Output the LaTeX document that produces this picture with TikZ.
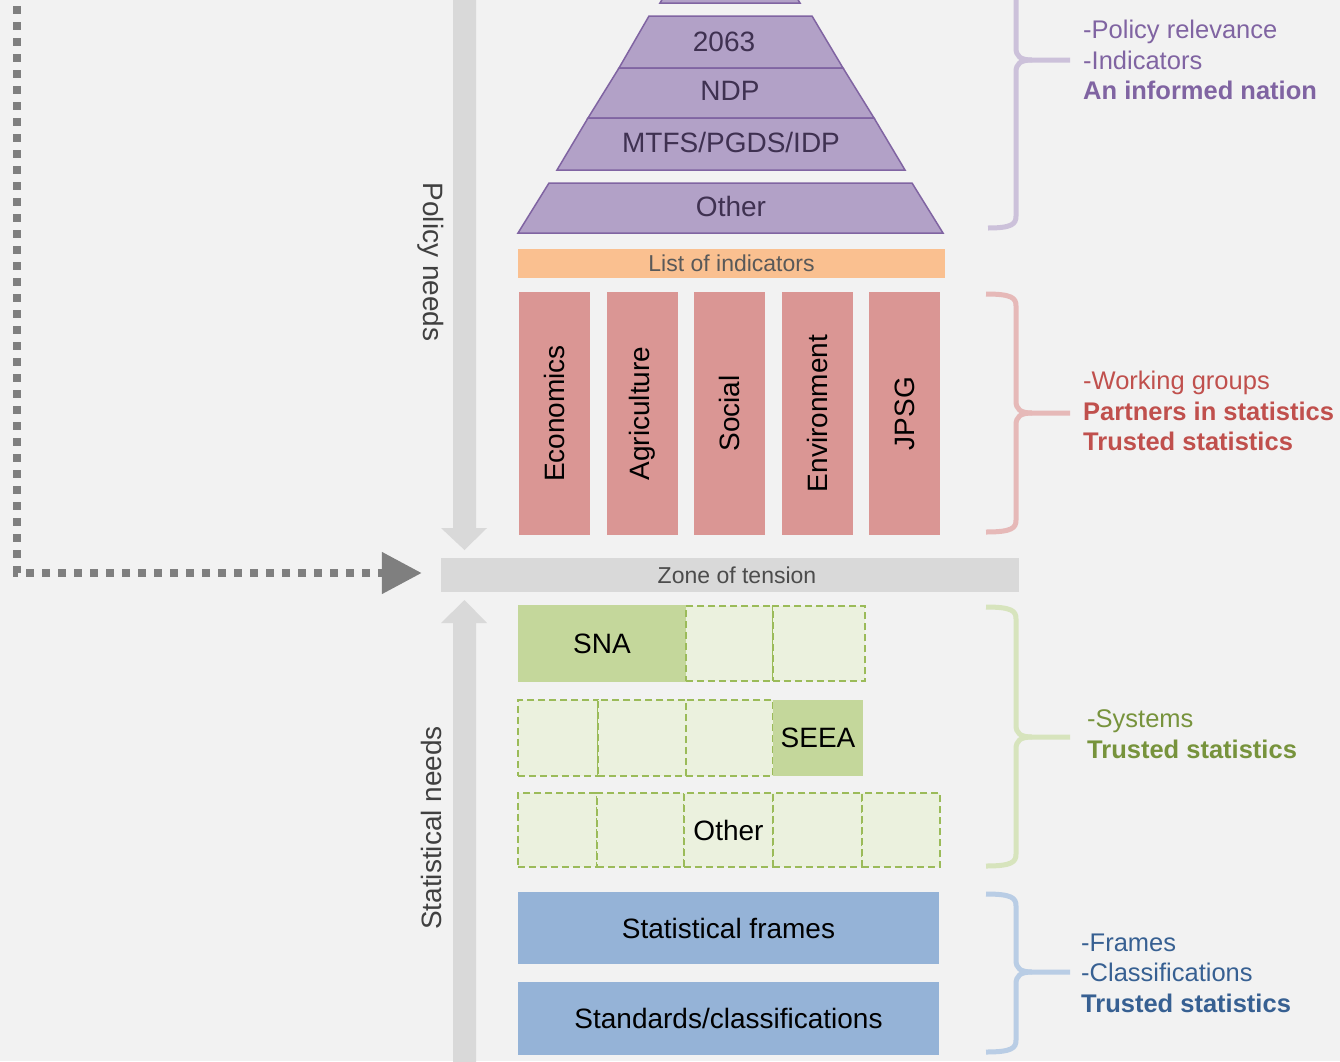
\documentclass[tikz,border=0pt]{standalone}
\usepackage{fontspec}
\setmainfont{Liberation Sans}
\usetikzlibrary{arrows.meta,positioning}

\definecolor{bg}{HTML}{F2F2F2}
\definecolor{pyrfill}{HTML}{B2A1C7}
\definecolor{pyrline}{HTML}{8064A2}
\definecolor{pyrtext}{HTML}{3F3151}
\definecolor{listfill}{HTML}{FAC090}
\definecolor{pillarfill}{HTML}{DA9694}
\definecolor{needfill}{HTML}{D9D9D9}
\definecolor{dotgray}{HTML}{7F7F7F}
\definecolor{grnsolid}{HTML}{C4D79B}
\definecolor{grncell}{HTML}{EBF1DE}
\definecolor{grnline}{HTML}{9BBB59}
\definecolor{bluefill}{HTML}{95B3D7}
\definecolor{purbrace}{HTML}{CCC1DA}
\definecolor{redbrace}{HTML}{E6B9B8}
\definecolor{grnbrace}{HTML}{D7E4BD}
\definecolor{bluebrace}{HTML}{B9CDE5}
\definecolor{purtext}{HTML}{8064A2}
\definecolor{redtext}{HTML}{C0504D}
\definecolor{grntext}{HTML}{77933C}
\definecolor{bluetext}{HTML}{376092}

\begin{document}
\begin{tikzpicture}[
x=1pt,y=-1pt,
big/.style={font=\fontsize{28}{32}\selectfont},
mid/.style={font=\fontsize{23}{27}\selectfont},
tier/.style={fill=pyrfill,draw=pyrline,line width=1.5pt},
tiertext/.style={big,text=pyrtext,inner sep=0},
pillar/.style={big,fill=pillarfill,rotate=90,minimum width=243pt,minimum height=71pt,inner sep=0},
needs/.style={fill=needfill},
needtext/.style={big,text=black!75,inner sep=0},
solidbox/.style={big,fill=grnsolid,inner sep=0,outer sep=0},
cell/.style={big,draw=grnline,fill=grncell,line width=2.4pt,dash pattern=on 7pt off 4pt,inner sep=0,outer sep=0},
frame/.style={big,fill=bluefill,minimum width=421pt,inner sep=0},
brace/.style={line width=5pt},
note/.style={anchor=west,align=left,inner sep=0,font=\fontsize{25.5}{30.5}\selectfont},
dots/.style={draw=dotgray,line width=8pt,dash pattern=on 8pt off 8pt,-{Triangle[length=40pt,width=40pt]}}
]
\useasboundingbox (0,0) rectangle (1340,1061);
\fill[bg] (0,0) rectangle (1340,1061);

% policy pyramid
\draw[tier] (686,-40) -- (774,-40) -- (800,3) -- (660,3) -- cycle;
\draw[tier] (649,16) -- (812,16) -- (843,68) -- (619,68) -- cycle;
\draw[tier] (619,68) -- (843,68) -- (874,118) -- (588,118) -- cycle;
\draw[tier] (588,118) -- (874,118) -- (905,170) -- (557,170) -- cycle;
\draw[tier] (549,183) -- (912,183) -- (943,233) -- (518,233) -- cycle;

\node[tiertext] (agenda) at (724,42) {2063};
\node[tiertext] (ndp) at (730,91) {NDP};
\node[tiertext] (mtfs) at (731,142) {MTFS/PGDS/IDP};
\node[tiertext] (pother) at (731,206) {Other};

\node[mid,fill=listfill,text=black!65,minimum width=427pt,minimum height=29pt,inner sep=0] (list) at (731.5,263.5) {List of indicators};

% working groups
\node[pillar] (p1) at (554.5,413.5) {Economics};
\node[pillar] (p2) at (642.5,413.5) {Agriculture};
\node[pillar] (p3) at (729.5,413.5) {Social};
\node[pillar] (p4) at (817.5,413.5) {Environment};
\node[pillar] (p5) at (904.5,413.5) {JPSG};

% needs arrows
\fill[needs] (453,-10) -- (476,-10) -- (476,528) -- (487,528) -- (464.5,550) -- (441,528) -- (453,528) -- cycle;
\fill[needs] (464.5,600) -- (487,623) -- (476,623) -- (476,1070) -- (453,1070) -- (453,623) -- (441,623) -- cycle;
\node[needtext,rotate=-90] (policy) at (431,262) {Policy needs};
\node[needtext,rotate=90] (statneeds) at (431,828) {Statistical needs};

\node[mid,fill=needfill,text=black!70,minimum width=578pt,minimum height=34pt,inner sep=0] (zone) at (730,575) {\hspace*{14pt}Zone of tension};

\coordinate (dtop) at (17,-10);
\draw[dots,shorten >=19pt] (dtop) |- ([yshift=2pt]zone.west);

% systems
\node[solidbox,minimum width=168pt,minimum height=77pt] (sna) at (602,643.5) {SNA};
\node[cell,minimum width=87pt,minimum height=75pt,right=0pt of sna] (sna1) {};
\node[cell,minimum width=92pt,minimum height=75pt,right=0pt of sna1] (sna2) {};

\node[cell,minimum width=80pt,minimum height=76pt] (seea1) at (558,738) {};
\node[cell,minimum width=88pt,minimum height=76pt,right=0pt of seea1] (seea2) {};
\node[cell,minimum width=87pt,minimum height=76pt,right=0pt of seea2] (seea3) {};
\node[solidbox,minimum width=90pt,minimum height=76pt,right=0pt of seea3] (seea) {SEEA};

\node[cell,minimum width=79pt,minimum height=74pt] (o1) at (557.5,830) {};
\node[cell,minimum width=87pt,minimum height=74pt,right=0pt of o1] (o2) {};
\node[cell,minimum width=89pt,minimum height=74pt,right=0pt of o2] (o3) {Other};
\node[cell,minimum width=89pt,minimum height=74pt,right=0pt of o3] (o4) {};
\node[cell,minimum width=78pt,minimum height=74pt,right=0pt of o4] (o5) {};

% frames
\node[frame,minimum height=72pt] (frames) at (728.5,928) {Statistical frames};
\node[frame,minimum height=73pt,below=18pt of frames] (standards) {Standards/classifications};

% braces
\draw[brace,purbrace] (988,-20) .. controls (1012,-20) and (1016,-16) .. (1016,-8) -- (1016,48) .. controls (1016,56) and (1020,60) .. (1032,60) -- (1070,60);
\draw[brace,purbrace] (988,228) .. controls (1012,228) and (1016,224) .. (1016,216) -- (1016,72) .. controls (1016,64) and (1020,60) .. (1032,60);
\draw[brace,redbrace] (986,294) .. controls (1012,294) and (1016,298) .. (1016,306) -- (1016,401) .. controls (1016,409) and (1020,413) .. (1032,413) -- (1070,413);
\draw[brace,redbrace] (986,532) .. controls (1012,532) and (1016,528) .. (1016,520) -- (1016,425) .. controls (1016,417) and (1020,413) .. (1032,413);
\draw[brace,grnbrace] (986,607) .. controls (1012,607) and (1016,611) .. (1016,619) -- (1016,725) .. controls (1016,733) and (1020,737) .. (1032,737) -- (1070,737);
\draw[brace,grnbrace] (986,866) .. controls (1012,866) and (1016,862) .. (1016,854) -- (1016,749) .. controls (1016,741) and (1020,737) .. (1032,737);
\draw[brace,bluebrace] (986,894) .. controls (1012,894) and (1016,898) .. (1016,906) -- (1016,960) .. controls (1016,968) and (1020,972) .. (1032,972) -- (1070,972);
\draw[brace,bluebrace] (986,1052) .. controls (1012,1052) and (1016,1048) .. (1016,1040) -- (1016,984) .. controls (1016,976) and (1020,972) .. (1032,972);

\node[note,text=purtext] (purnote) at (1083,60) {-Policy relevance\\-Indicators\\\textbf{An informed nation}};
\node[note,text=redtext] (rednote) at (1083,411) {-Working groups\\\textbf{Partners in statistics}\\\textbf{Trusted statistics}};
\node[note,text=grntext] (grnnote) at (1087,734) {-Systems\\\textbf{Trusted statistics}};
\node[note,text=bluetext] (bluenote) at (1081,973) {-Frames\\-Classifications\\\textbf{Trusted statistics}};

\end{tikzpicture}
\end{document}
